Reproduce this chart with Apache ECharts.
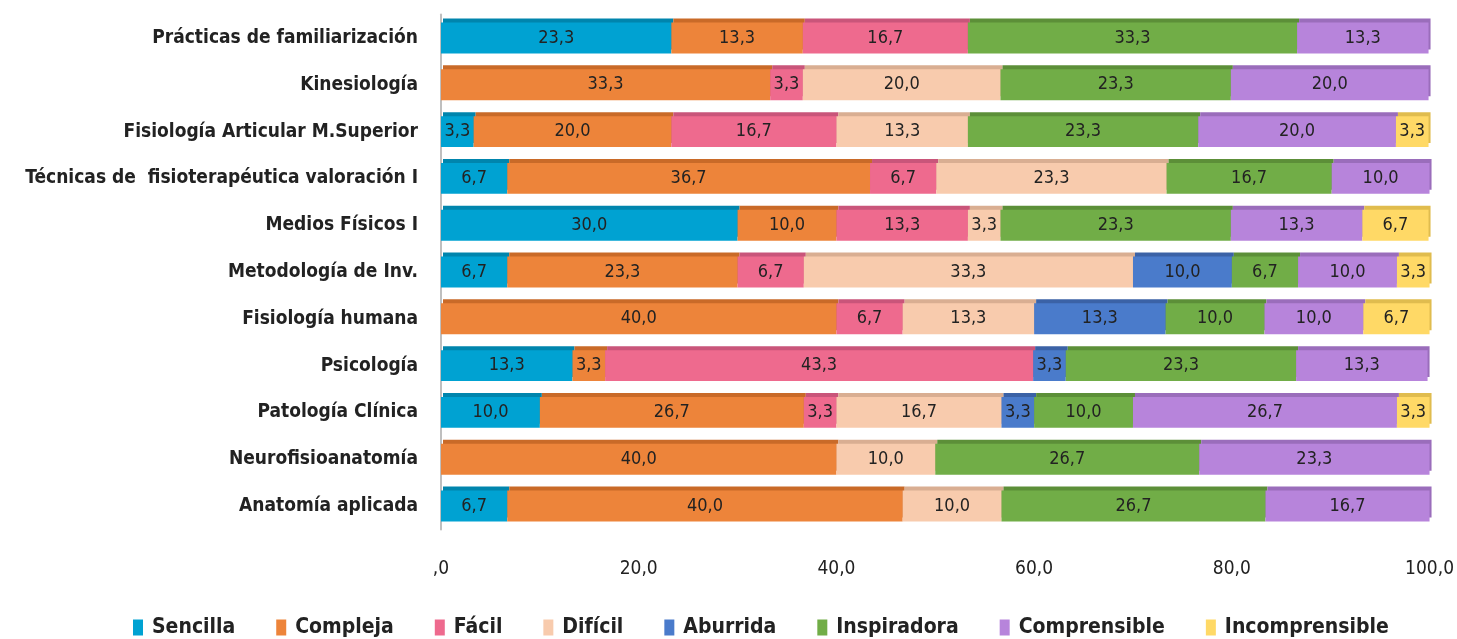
<!DOCTYPE html>
<html><head><meta charset="utf-8">
<script src="https://cdn.jsdelivr.net/npm/echarts@6/dist/echarts.min.js"></script>
<style>html,body{margin:0;padding:0;background:#fff}#c{width:1457px;height:639px}</style>
</head><body><div id="c"></div>
<script>
const categories = ["Anatomía aplicada","Neurofisioanatomía","Patología Clínica","Psicología","Fisiología humana","Metodología de Inv.","Medios Físicos I","Técnicas de  fisioterapéutica valoración I","Fisiología Articular M.Superior","Kinesiología","Prácticas de familiarización"];
const seriesNames = ["Sencilla","Compleja","Fácil","Difícil","Aburrida","Inspiradora","Comprensible","Incomprensible"];
const colors = ["#00A2D2","#ED843A","#EE6A8E","#F8CBAD","#4A7BCB","#71AD47","#B784DB","#FFD966"];
const topColors = ["#0085AD","#C96A28","#C9557A","#D9AE92","#3B62A6","#5C8F38","#9A6DBB","#E0BC4E"];
// order of values follows categories (bottom to top)
const sencilla       = [6.7, 0,    10.0, 13.3, 0,    6.7,  30.0, 6.7,  3.3,  0,    23.3];
const compleja       = [40.0,40.0, 26.7, 3.3,  40.0, 23.3, 10.0, 36.7, 20.0, 33.3, 13.3];
const facil          = [0,   0,    3.3,  43.3, 6.7,  6.7,  13.3, 6.7,  16.7, 3.3,  16.7];
const dificil        = [10.0,10.0, 16.7, 0,    13.3, 33.3, 3.3,  23.3, 13.3, 20.0, 0];
const aburrida       = [0,   0,    3.3,  3.3,  13.3, 10.0, 0,    0,    0,    0,    0];
const inspiradora    = [26.7,26.7, 10.0, 23.3, 10.0, 6.7,  23.3, 16.7, 23.3, 23.3, 33.3];
const comprensible   = [16.7,23.3, 26.7, 13.3, 10.0, 10.0, 13.3, 10.0, 20.0, 20.0, 13.3];
const incomprensible = [0,   0,    3.3,  0,    6.7,  3.3,  6.7,  0,    3.3,  0,    0];
const xTicks = [0,20,40,60,80,100];
const allData = [sencilla,compleja,facil,dificil,aburrida,inspiradora,comprensible,incomprensible];
const FONT = "'Liberation Sans Narrow','DejaVu Sans Condensed','Open Sans',sans-serif";
const fmt = v => { const s = v.toFixed(1).replace('.', ','); return s.startsWith('0,') ? s.slice(1) : s; };
const chart = echarts.init(document.getElementById('c'));
chart.setOption({
  animation:false,
  textStyle:{fontFamily:FONT},
  grid:{left:441,right:26,top:14.6,bottom:109.6,containLabel:false},
  legend:{top:612,left:128,itemWidth:10,itemHeight:16,itemGap:41,icon:'rect',
    textStyle:{fontFamily:FONT,fontSize:21,fontWeight:'bold',color:'#222',padding:[0,0,0,4]},data:seriesNames},
  xAxis:{type:'value',min:0,max:100,interval:20,
    axisLine:{show:false},axisTick:{show:false},splitLine:{show:false},
    axisLabel:{margin:30,fontFamily:FONT,fontSize:19,color:'#222',formatter:v=>fmt(v)}},
  yAxis:{type:'category',data:categories,
    axisLine:{show:true,lineStyle:{color:'#BFBFBF',width:2}},axisTick:{show:false},
    axisLabel:{margin:23,fontFamily:FONT,fontSize:19,fontWeight:'bold',color:'#222'}},
  series: seriesNames.map((n,i)=>({
    name:n,type:'bar',stack:'t',barWidth:'66%',
    itemStyle:{color:colors[i],shadowColor:topColors[i],shadowOffsetY:-4,shadowOffsetX:2,shadowBlur:0},
    label:{show:true,position:'inside',color:'#222',fontFamily:FONT,fontSize:18,
      formatter:p=>p.value>0?fmt(p.value):''},
    data:allData[i]
  }))
});
</script></body></html>
